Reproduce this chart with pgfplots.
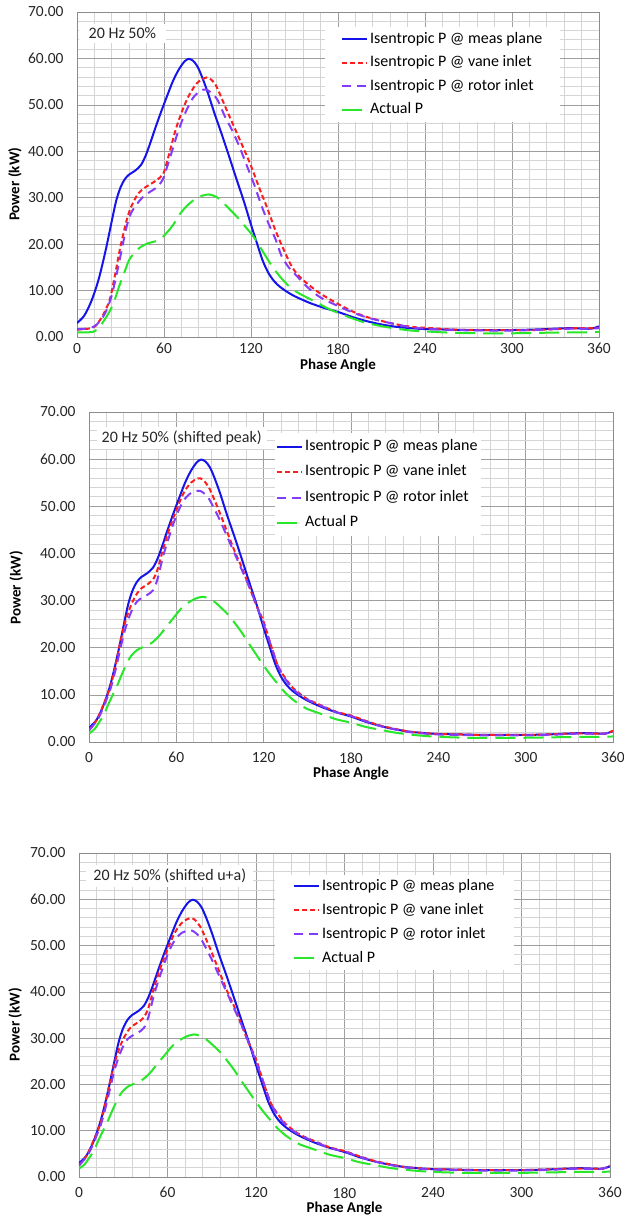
\documentclass[border=0pt]{standalone}
\usepackage{fontspec}
\setmainfont{Carlito}
\usepackage{pgfplots}
\usepackage{pgfplotstable}
\pgfplotsset{compat=1.18}

\definecolor{cblue}{RGB}{20,20,235}
\definecolor{cred}{RGB}{250,30,30}
\definecolor{cpurple}{RGB}{130,60,250}
\definecolor{cgreen}{RGB}{40,230,40}

% measured plane (same curve in all three panels)
\pgfplotstableread{
x y
0 3.0
5 4.6
10 7.8
15 12.5
20 19.0
24 25.0
27 29.3
30 32.2
33 34.0
36 35.0
40 35.8
44 37.0
47 38.8
50 41.3
54 45.0
58 48.5
62 51.8
66 55.0
70 57.5
74 59.3
77 59.9
80 59.5
83 58.3
86 56.2
90 52.8
95 48.0
100 43.5
105 38.8
110 34.0
115 29.3
120 24.2
124 20.3
128 16.5
132 13.8
136 12.0
140 10.8
145 9.7
150 8.8
160 7.4
170 6.3
180 5.4
190 4.3
200 3.4
210 2.7
220 2.2
230 1.9
240 1.7
255 1.6
270 1.5
285 1.5
300 1.5
315 1.6
330 1.8
340 1.9
350 1.8
355 1.8
360 2.3
}\tabMeas

% panel 1
\pgfplotstableread{
x y
0 1.6
6 1.7
12 2.2
16 3.7
20 6.0
23 8.5
26 13.0
29 18.0
32 22.3
35 26.0
38 28.5
42 30.8
46 32.0
50 32.8
55 33.8
59.5 35.2
63 38.8
68.7 45.3
75.6 51.0
82.5 54.6
89.4 55.9
93 55.3
96.3 53.9
103.2 48.9
112.4 42.4
119.3 37.4
126.2 31.7
130.8 28.1
137.7 22.3
146.9 15.9
152 13.5
158.4 11.6
167.6 9.4
179 7.3
190 5.5
200 4.3
216 3.0
230 2.2
240 2.0
260 1.6
280 1.5
300 1.5
315 1.5
330 1.7
345 1.9
355 1.9
360 2.0
}\tabVaneA

\pgfplotstableread{
x y
0 1.7
6 1.8
12 2.3
16 3.5
20 5.5
24 9.0
28 14.5
31 19.0
34 23.5
37 26.5
41 28.5
45 30.0
50 31.2
55 32.2
59 33.8
62 36.5
66 40.5
70 44.5
75 48.5
80 51.5
85 53.0
89 53.3
93 52.5
97 51.0
102 47.5
107 44.5
112 41.0
117 37.0
122 33.0
127 28.5
132 24.5
137 21.0
141 17.5
146 15.0
152 13.0
158 11.0
167 8.7
179 6.8
190 5.3
200 4.2
216 3.0
230 2.1
240 1.8
260 1.5
280 1.4
300 1.4
315 1.5
330 1.7
345 1.8
355 1.8
360 1.9
}\tabRotorA

\pgfplotstableread{
x y
0 1.0
6 1.0
11 1.1
14 1.6
17 2.8
20 4.2
23 5.8
26 8.0
29.5 11.3
33 14.2
36 16.6
40 18.3
44 19.4
49 20.2
54 20.6
58 21.2
62 22.5
66 24.0
71 26.5
76 28.3
81 29.6
86 30.4
91 30.7
96 30.2
100 29.2
105 27.6
110 26.0
116 23.8
122 21.5
128 18.5
134 15.5
140 13.0
146 11.0
152 9.6
158 8.6
165 7.5
172 6.3
180 5.2
190 4.0
200 3.0
216 2.0
230 1.4
240 1.2
260 0.9
280 0.8
300 0.8
320 0.9
340 1.0
355 1.0
360 1.1
}\tabActualA

% panels 2 and 3 (shifted)
\pgfplotstableread{
x y
0 2.5
5 4.5
8 6.5
12 9.5
15 12.0
18 16.0
21 20.5
24 24.5
27 27.5
30 29.8
33 31.5
36 32.6
40 33.4
44 34.5
47 36.5
51 41.0
55 45.0
60 49.2
65 52.8
70 55.0
75 55.9
78 55.7
82 54.2
86 51.5
90 48.5
95 44.5
100 40.5
105 37.0
110 33.0
115 29.0
120 25.5
125 20.5
130 16.0
135 13.5
140 11.5
145 10.2
150 9.1
160 7.7
170 6.4
180 5.6
190 4.5
200 3.5
210 2.8
220 2.2
230 1.9
240 1.7
255 1.6
270 1.5
285 1.5
300 1.5
315 1.6
330 1.8
340 1.8
350 1.8
355 1.8
360 2.4
}\tabVaneB

\pgfplotstableread{
x y
0 2.5
5 4.3
8 6.0
12 9.0
15 11.5
18 15.0
21 19.0
24 23.0
27 26.0
30 28.3
33 29.8
36 30.5
40 31.2
44 32.2
47 34.5
51 39.5
55 43.5
60 48.0
65 51.2
70 52.8
75 53.3
78 53.0
82 51.8
86 49.5
90 47.0
95 43.5
100 40.0
105 36.5
110 33.0
115 29.0
120 25.0
125 20.5
130 16.0
135 13.3
140 11.3
145 10.0
150 9.0
160 7.6
170 6.3
180 5.5
190 4.4
200 3.4
210 2.7
220 2.1
230 1.8
240 1.6
255 1.5
270 1.4
285 1.4
300 1.4
315 1.5
330 1.7
340 1.8
350 1.7
355 1.8
360 2.3
}\tabRotorB

\pgfplotstableread{
x y
0 1.8
4 2.8
7 4.2
10 5.6
13 7.8
16 9.8
19 11.7
22.5 14.3
26 16.7
29 18.3
33 19.5
37 20.1
41 20.6
45 21.5
49 22.8
53 24.4
58 26.3
63 28.2
68 29.5
73 30.4
78 30.8
82 30.5
86 29.8
90 28.7
95 27.2
100 25.3
105 23.2
110 20.8
115 18.5
120 16.2
125 14.1
130 12.2
135 10.4
140 9.0
145 7.9
150 7.0
160 5.9
170 4.8
180 4.1
190 3.2
200 2.6
210 2.0
220 1.6
230 1.3
240 1.1
260 0.9
280 0.9
300 0.9
320 1.0
340 1.1
355 1.1
360 1.2
}\tabActualB

\pgfplotsset{
  pchart/.style={
    scale only axis,
    anchor=south west,
    xmin=0, xmax=360, ymin=0, ymax=70,
    xtick={0,60,...,360}, ytick={0,10,...,70},
    minor tick num=4,
    grid=both,
    major grid style={draw=black!38, line width=0.6pt},
    minor grid style={draw=black!17, line width=0.9pt},
    axis line style={draw=black!45, line width=0.8pt},
    major tick length=0pt, minor tick length=0pt,
    /pgf/number format/assume math mode=true,
    tick label style={font=\fontsize{15.5}{18}\selectfont, text=black!85},
    y tick label style={/pgf/number format/.cd, fixed, fixed zerofill, precision=2, /tikz/.cd, xshift=-10pt},
    xlabel={Phase Angle}, ylabel={Power (kW)},
    label style={font=\bfseries\fontsize{15}{18}\selectfont},
    legend cell align=left,
    legend style={draw=none, fill=white, anchor=north west,
      font=\fontsize{16}{18}\selectfont,
      nodes={inner xsep=2pt, inner ysep=3pt, text height=11pt, text depth=3.5pt}},
    legend image code/.code={\draw[#1] (0pt,0pt) -- (25pt,0pt);},
  },
  meas/.style={cblue, line width=2pt, smooth},
  vane/.style={cred, line width=2pt, smooth, dash pattern=on 5pt off 3pt},
  rotor/.style={cpurple, line width=2pt, smooth, dash pattern=on 9pt off 6pt},
  actual/.style={cgreen, line width=2pt, smooth, dash pattern=on 20pt off 8pt},
}

\begin{document}
\begin{tikzpicture}
\path[use as bounding box] (0pt,0pt) rectangle (624pt,1216pt);

% ---------- panel 1 ----------
\begin{axis}[pchart,
  at={(77pt,879pt)}, width=522pt, height=325pt,
  x tick label style={yshift=-3pt},
  xlabel style={at={(axis description cs:0.5,0)}, anchor=center, yshift=-29pt},
  ylabel style={at={(axis description cs:-0.119,0.47)}, anchor=center},
  legend style={at={(axis description cs:0.475,0.954)}, inner xsep=16pt, inner ysep=2pt, row sep=3pt},
]
\addplot[meas] table {\tabMeas};
\addplot[vane] table {\tabVaneA};
\addplot[rotor] table {\tabRotorA};
\addplot[actual] table {\tabActualA};
\legend{Isentropic P @ meas plane, Isentropic P @ vane inlet, Isentropic P @ rotor inlet, Actual P}
\node[fill=white, inner xsep=10pt, inner ysep=4pt, font=\fontsize{16}{18}\selectfont, text=black!85]
  at (axis description cs:0.087,0.935) {20 Hz 50\%};
\end{axis}

% ---------- panel 2 ----------
\begin{axis}[pchart,
  at={(89pt,474pt)}, width=524pt, height=330pt,
  x tick label style={yshift=-7pt},
  xlabel style={at={(axis description cs:0.5,0)}, anchor=center, yshift=-32pt},
  ylabel style={at={(axis description cs:-0.139,0.467)}, anchor=center},
  legend style={at={(axis description cs:0.355,0.936)}, inner xsep=1pt, inner ysep=3pt, row sep=5pt},
]
\addplot[meas] table {\tabMeas};
\addplot[vane] table {\tabVaneB};
\addplot[rotor] table {\tabRotorB};
\addplot[actual] table {\tabActualB};
\legend{Isentropic P @ meas plane, Isentropic P @ vane inlet, Isentropic P @ rotor inlet, Actual P}
\node[fill=white, inner xsep=5pt, inner ysep=4pt, font=\fontsize{16}{18}\selectfont, text=black!85]
  at (axis description cs:0.177,0.921) {20 Hz 50\% (shifted peak)};
\end{axis}

% ---------- panel 3 ----------
\begin{axis}[pchart,
  at={(79pt,39pt)}, width=531pt, height=324pt,
  x tick label style={yshift=-7pt},
  xlabel style={at={(axis description cs:0.5,0)}, anchor=center, yshift=-32pt},
  ylabel style={at={(axis description cs:-0.12,0.47)}, anchor=center},
  legend style={at={(axis description cs:0.369,0.932)}, inner xsep=18pt, inner ysep=1pt, row sep=3.5pt},
]
\addplot[meas] table {\tabMeas};
\addplot[vane] table {\tabVaneB};
\addplot[rotor] table {\tabRotorB};
\addplot[actual] table {\tabActualB};
\legend{Isentropic P @ meas plane, Isentropic P @ vane inlet, Isentropic P @ rotor inlet, Actual P}
\node[fill=white, inner xsep=7pt, inner ysep=4pt, font=\fontsize{16}{18}\selectfont, text=black!85]
  at (axis description cs:0.171,0.929) {20 Hz 50\% (shifted u+a)};
\end{axis}
\end{tikzpicture}
\end{document}
